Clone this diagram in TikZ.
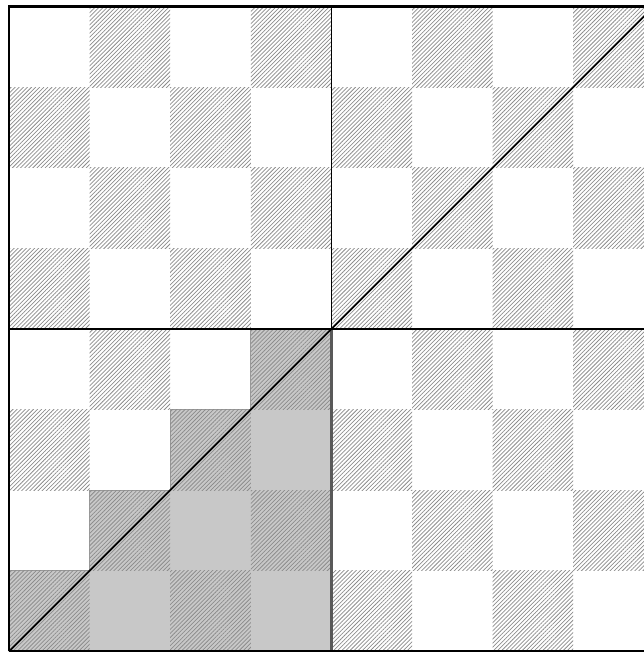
\documentclass[tikz,border=0pt]{standalone}
\usetikzlibrary{patterns.meta}
\definecolor{hatchgray}{RGB}{140,140,140}
\definecolor{stairgray}{RGB}{200,200,200}

\begin{document}
\begin{tikzpicture}[
    x=80.6pt, y=80.6pt,
    hatch/.style={pattern={Lines[angle=45, distance=2.9pt, line width=0.75pt]},
                  pattern color=hatchgray},
    stair/.style={fill=stairgray, draw=gray!80, line width=0.8pt},
    rule/.style={black, line width=1.8pt},
    border/.style={black, line width=2.8pt}
  ]
  \useasboundingbox (-0.112,-0.058) rectangle (7.866,8.081);

  % staircase under the diagonal
  \filldraw[stair] (0,0) -- (4,0) -- (4,4) -- (3,4) -- (3,3) -- (2,3)
    -- (2,2) -- (1,2) -- (1,1) -- (0,1) -- cycle;

  % hatched squares of the board
  \foreach \i in {0,...,7}
    \foreach \j in {0,...,7} {
      \pgfmathtruncatemacro\odd{mod(\i+\j,2)}
      \ifnum\odd=0 \fill[hatch] (\i,\j) rectangle ++(1,1); \fi
    }

  % quadrant rules and diagonal
  \draw[gray!70!black, line width=3.4pt] (4,0) -- (4,4);
  \draw[rule] (4,4) -- (4,8);
  \draw[rule] (0,4) -- (8,4);
  \draw[rule] (0,0) -- (8,8);

  % frame
  \draw[border] (0,0) -- (0,8) -- (8,8);
  \draw[rule] (0,0) -- (8,0);
\end{tikzpicture}
\end{document}
